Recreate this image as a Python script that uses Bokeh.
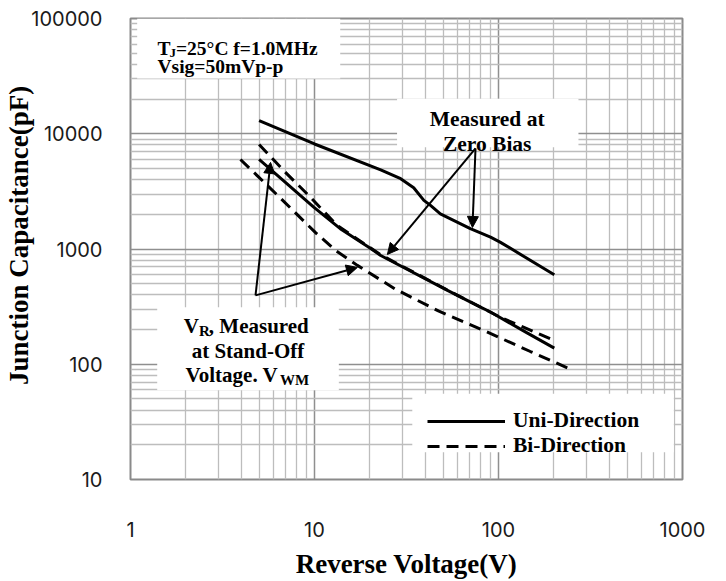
from bokeh.plotting import figure
from bokeh.models import (Range1d, FixedTicker, NumeralTickFormatter, Label, Arrow,
                          NormalHead, Legend, LegendItem)
from bokeh.embed import file_html
from bokeh.resources import INLINE

# ---------------- data ----------------
x_ticks = [1, 10, 100, 1000]
y_ticks = [10, 100, 1000, 10000, 100000]

# Uni-direction, measured at zero bias
zero_bias_v = [5, 10, 22.9, 29.4, 34.6, 39.3, 42.7, 48.3, 70.3, 90.5, 102, 201]
zero_bias_c = [13000, 8150, 4850, 4070, 3400, 2640, 2390, 2020, 1500, 1268, 1148, 598]

# Uni-direction, measured at stand-off voltage
uni_v = [5, 6.0, 9.9, 13.8, 20.2, 22.9, 52.8, 79.8, 90.5, 143, 201]
uni_c = [5980, 4650, 2310, 1500, 1010, 879, 437, 313, 284, 187, 138]

# Bi-direction (upper dashed)
bi_a_v = [5, 6.78, 9.5, 10.6, 13.3, 22.9, 52.8, 102, 137.5, 201]
bi_a_c = [8070, 4810, 2820, 2340, 1600, 890, 440, 256, 209, 161]

# Bi-direction (lower dashed)
bi_b_v = [3.96, 6.55, 10.1, 13.0, 17.1, 27.6, 47.1, 85.1, 149, 248]
bi_b_c = [5980, 2750, 1393, 973, 721, 447, 290, 193, 129, 90]

minor_x = [m * d for d in [1, 10, 100] for m in range(2, 10)]
minor_y = [m * d for d in [10, 100, 1000, 10000] for m in range(2, 10)]

SERIF = "Liberation Serif"

p = figure(width=726, height=581, x_axis_type="log", y_axis_type="log",
           x_range=Range1d(1, 1000), y_range=Range1d(10, 100000),
           output_backend="svg", toolbar_location=None,
           min_border_left=130, min_border_right=44, min_border_top=18,
           min_border_bottom=102, background_fill_color="white",
           border_fill_color="white")

p.outline_line_color = "#8a8a8a"
p.outline_line_width = 2

for ax, ticks, minors in ((p.xaxis[0], x_ticks, minor_x), (p.yaxis[0], y_ticks, minor_y)):
    ax.ticker = FixedTicker(ticks=ticks, minor_ticks=minors)
    ax.formatter = NumeralTickFormatter(format="0")
    ax.axis_line_color = None
    ax.major_tick_line_color = None
    ax.minor_tick_line_color = None
    ax.major_label_text_font = "Inter"
    ax.major_label_text_font_size = "20px"
    ax.major_label_text_color = "#1a1a1a"
    ax.axis_label_text_font = SERIF
    ax.axis_label_text_font_style = "bold"
    ax.axis_label_text_font_size = "27px"
    ax.axis_label_text_color = "black"

p.xaxis.axis_label = "Reverse Voltage(V)"
p.yaxis.axis_label = "\u00a0\u00a0\u00a0\u00a0Junction Capacitance(pF)"
p.xaxis.major_label_standoff = 36
p.xaxis.axis_label_standoff = 9
p.yaxis.major_label_standoff = 22
p.yaxis.axis_label_standoff = -6

for g in (p.xgrid[0], p.ygrid[0]):
    g.grid_line_color = "#8f8f8f"
    g.grid_line_width = 1.5
    g.minor_grid_line_color = "#bdbdbd"
    g.minor_grid_line_width = 1.3

# white boxes behind annotations
p.quad(left=[1.087], right=[13.8], bottom=[30200], top=[100000],
       fill_color="white", line_color=None)
p.quad(left=[28.1], right=[272], bottom=[7650], top=[20100],
       fill_color="white", line_color=None)
p.quad(left=[1.397], right=[13.56], bottom=[59.4], top=[313],
       fill_color="white", line_color=None)
p.quad(left=[34.0], right=[897], bottom=[17.2], top=[55.6],
       fill_color="white", line_color=None)

# curves
r_zero = p.line(zero_bias_v, zero_bias_c, line_color="black", line_width=3,
                line_join="round")
r_uni = p.line(uni_v, uni_c, line_color="black", line_width=3, line_join="round")
r_bi_a = p.line(bi_a_v, bi_a_c, line_color="black", line_width=3, line_dash="12 7")
r_bi_b = p.line(bi_b_v, bi_b_c, line_color="black", line_width=3, line_dash="12 7")

legend = Legend(items=[LegendItem(label="Uni-Direction", renderers=[r_uni]),
                       LegendItem(label="Bi-Direction", renderers=[r_bi_b])],
                location=(297, 21), padding=0, spacing=0, glyph_width=78,
                glyph_height=20, label_standoff=8, margin=0,
                background_fill_alpha=0, border_line_color=None,
                label_text_font=SERIF, label_text_font_style="bold",
                label_text_font_size="21.5px", label_text_color="black")
p.add_layout(legend, "center")

# arrows
def arrow(x0, y0, x1, y1):
    p.add_layout(Arrow(x_start=x0, y_start=y0, x_end=x1, y_end=y1,
                       line_color="black", line_width=2,
                       end=NormalHead(size=11, fill_color="black", line_color="black")))

arrow(4.78, 396, 5.77, 5640)
arrow(4.78, 396, 17.1, 692)
arrow(75.0, 7470, 24.9, 897)
arrow(75.0, 7470, 72.2, 1538)

def lab(x, y, text, size="21px", align="left", dx=0, dy=0):
    p.add_layout(Label(x=x, y=y, text=text, x_offset=dx, y_offset=dy,
                       text_font=SERIF, text_font_style="bold",
                       text_font_size=size, text_align=align,
                       text_baseline="alphabetic", text_color="black"))

# conditions box
lab(1.402, 54950, "T", size="19.5px")
lab(1.402, 54950, "J", size="13px", dx=12, dy=-4)
lab(1.402, 54950, "=25\u00b0C f=1.0MHz", size="19.5px", dx=18.5)
lab(1.402, 38370, "Vsig=50mVp-p", size="19.5px")

# zero bias box
lab(86.8, 13490, "Measured at", size="21.5px", align="center")
lab(86.8, 8190, "Zero Bias", size="21.5px", align="center")

# stand-off box
lab(1.949, 213, "V", size="21px")
lab(1.949, 213, "R", size="15px", dx=15.2, dy=-5)
lab(1.949, 213, ", Measured", size="21px", dx=25)
lab(4.35, 130, "at Stand-Off", size="21px", align="center")
lab(1.99, 80.2, "Voltage. V", size="21px")
lab(1.99, 80.2, "WM", size="15px", dx=94.5, dy=-5)

open("out.html", "w").write(file_html(p, INLINE))
